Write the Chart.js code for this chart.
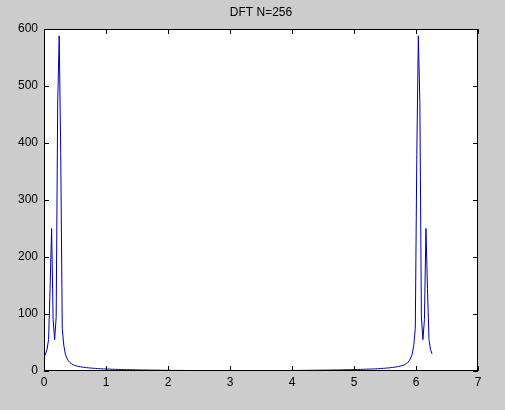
<!DOCTYPE html>
<html>
<head>
<meta charset="utf-8">
<script src="https://cdn.jsdelivr.net/npm/chart.js@4"></script>
<style>
  body { margin: 0; background: #cccccc; }
  #wrap { width: 505px; height: 410px; }
</style>
</head>
<body>
<div id="wrap"><canvas id="myChart" width="505" height="410"></canvas></div>
<script>
// DFT size and title
var N = 256;
var title = "DFT N=256";

// |X(k)|, bins 0..128
var magFirst = [24,30,38,55,145,250,90,55,95,470,
  588,380,75,45,30,23,18,15,13,11,
  10,9.2,8.5,7.9,7.4,7.0,6.6,6.2,5.9,5.6,
  5.3,5.1,4.9,4.7,4.5,4.3,4.1,4.0,3.8,3.7,
  3.6,3.5,3.4,3.3,3.2,3.1,3.0,2.9,2.8,2.8,
  2.7,2.6,2.6,2.5,2.4,2.4,2.3,2.3,2.2,2.2,
  2.1,2.0,2.0,1.9,1.9,1.8,1.8,1.7,1.7,1.6,
  1.6,1.5,1.5,1.5,1.4,1.4,1.4,1.3,1.3,1.3,
  1.2,1.2,1.2,1.2,1.1,1.1,1.1,1.1,1.0,1.0,
  1.0,1.0,1.0,0.9,0.9,0.9,0.9,0.9,0.9,0.8,
  0.8,0.8,0.8,0.8,0.8,0.8,0.8,0.7,0.7,0.7,
  0.7,0.7,0.7,0.7,0.7,0.7,0.7,0.7,0.7,0.7,
  0.7,0.7,0.7,0.7,0.7,0.7,0.7,0.7,0.7];
// bins 129..255
var magSecond = [0.7,0.7,0.7,0.7,0.7,0.7,0.7,0.7,0.7,0.7,
  0.7,0.7,0.7,0.7,0.7,0.7,0.7,0.7,0.7,0.7,0.7,
  0.8,0.8,0.8,0.8,0.8,0.8,0.8,
  0.8,0.9,0.9,0.9,0.9,0.9,0.9,1.0,1.0,1.0,
  1.0,1.0,1.1,1.1,1.1,1.1,1.2,1.2,1.2,1.2,
  1.3,1.3,1.3,1.4,1.4,1.4,1.5,1.5,1.5,1.6,
  1.6,1.7,1.7,1.8,1.8,1.9,1.9,2.0,2.0,2.1,
  2.2,2.2,2.3,2.3,2.4,2.4,2.5,2.6,2.6,2.7,
  2.8,2.8,2.9,3.0,3.1,3.2,3.3,3.4,3.5,3.6,
  3.7,3.8,4.0,4.1,4.3,4.5,4.7,4.9,5.1,5.3,
  5.6,5.9,6.2,6.6,7.0,7.4,7.9,8.5,9.2,10,
  11,13,15,18,23,30,45,75,380,588,
  470,95,55,90,250,145,55,38,30];

// axis ticks
var xTicks = [0,1,2,3,4,5,6,7];
var yTicks = [0,100,200,300,400,500,600];

var mag = magFirst.concat(magSecond);
var pts = [];
for (var k = 0; k < mag.length; k++) {
  pts.push({ x: 2 * Math.PI * k / N, y: mag[k] }); // bin k -> omega
}

// white plot area, black box, inward ticks on all four sides, title
var matlabAxes = {
  id: 'matlabAxes',
  beforeDraw: function (chart) {
    var a = chart.chartArea, c = chart.ctx;
    c.save();
    c.fillStyle = '#ffffff';
    c.fillRect(a.left, a.top, a.right - a.left, a.bottom - a.top);
    c.restore();
  },
  afterDraw: function (chart) {
    var a = chart.chartArea, c = chart.ctx;
    var sx = chart.scales.x, sy = chart.scales.y;
    var len = 5;
    c.save();
    c.strokeStyle = '#000000';
    c.lineWidth = 1;
    c.strokeRect(a.left + 0.5, a.top + 0.5, a.right - a.left - 1, a.bottom - a.top - 1);
    c.beginPath();
    xTicks.forEach(function (t) {
      var px = Math.round(sx.getPixelForValue(t)) + 0.5;
      c.moveTo(px, a.bottom); c.lineTo(px, a.bottom - len);
      c.moveTo(px, a.top); c.lineTo(px, a.top + len);
    });
    yTicks.forEach(function (t) {
      var py = Math.round(sy.getPixelForValue(t)) + 0.5;
      c.moveTo(a.left, py); c.lineTo(a.left + len, py);
      c.moveTo(a.right, py); c.lineTo(a.right - len, py);
    });
    c.stroke();
    // title
    c.fillStyle = '#000000';
    c.font = '12px "Liberation Sans", Arial, sans-serif';
    c.textAlign = 'center';
    c.textBaseline = 'middle';
    c.fillText(title, (a.left + a.right) / 2, 13);
    c.restore();
  }
};

var tickFont = { family: '"Liberation Sans", Arial, sans-serif', size: 12 };

var myChart = new Chart(document.getElementById('myChart'), {
  type: 'scatter',
  data: {
    datasets: [{
      data: pts,
      showLine: true,
      borderColor: 'rgb(0,0,170)',
      borderWidth: 1,
      pointRadius: 0,
      tension: 0
    }]
  },
  options: {
    responsive: false,
    animation: false,
    layout: { padding: { top: 29, right: 27, left: 0, bottom: 0 } },
    plugins: { legend: { display: false }, tooltip: { enabled: false } },
    scales: {
      x: {
        type: 'linear', min: 0, max: 7,
        afterFit: function (s) { s.height = 39; },
        afterBuildTicks: function (s) { s.ticks = xTicks.map(function (v) { return { value: v }; }); },
        grid: { display: false, drawTicks: false },
        border: { display: false },
        ticks: { color: '#000', font: tickFont, padding: 4, maxRotation: 0 }
      },
      y: {
        type: 'linear', min: 0, max: 600,
        afterFit: function (s) { s.width = 44; },
        afterBuildTicks: function (s) { s.ticks = yTicks.map(function (v) { return { value: v }; }); },
        grid: { display: false, drawTicks: false },
        border: { display: false },
        ticks: { color: '#000', font: tickFont, padding: 6 }
      }
    }
  },
  plugins: [matlabAxes]
});
</script>
</body>
</html>
